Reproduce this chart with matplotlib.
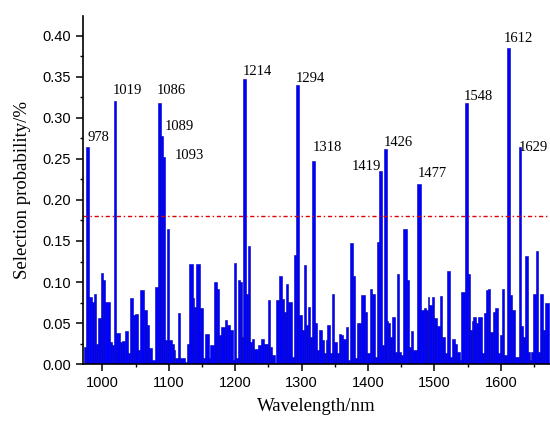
import numpy as np
import matplotlib
matplotlib.use('Agg')
import matplotlib.pyplot as plt

# left edge of each column (nm) and its selection probability
wl = [972, 976, 979.5, 985, 988, 991, 993, 998, 1001, 1004, 1011, 1014, 1017, 1021,
      1026, 1030, 1034, 1038, 1041, 1046, 1049, 1053, 1057, 1063, 1067, 1071, 1075,
      1080, 1084, 1088, 1091, 1095, 1097, 1101, 1105, 1108, 1110, 1114, 1117, 1124,
      1128, 1131, 1136, 1138, 1141, 1147, 1152, 1155, 1160, 1162, 1168, 1173, 1176,
      1179, 1184, 1188, 1192, 1196, 1198, 1202, 1204, 1208, 1210, 1212, 1216, 1219,
      1222, 1226, 1229, 1234, 1239, 1243, 1247, 1250, 1253, 1256, 1260, 1262, 1266,
      1270, 1273, 1277, 1280, 1285, 1288, 1292, 1296, 1300, 1303, 1306, 1309, 1313,
      1316, 1320, 1323, 1326, 1331, 1334, 1337, 1339, 1343, 1346, 1349, 1353, 1356,
      1360, 1363, 1367, 1370, 1373, 1378, 1380, 1383, 1387, 1389, 1395, 1399, 1403,
      1406, 1410, 1413, 1417, 1421, 1424, 1428, 1430, 1433, 1436, 1441, 1444, 1447,
      1450, 1453, 1458, 1462, 1464, 1468, 1474, 1480, 1484, 1488, 1490, 1492, 1496,
      1500, 1504, 1508, 1512, 1516, 1519, 1524, 1527, 1531, 1534, 1538, 1540, 1546,
      1550, 1554, 1556, 1558, 1562, 1566, 1571, 1574, 1577, 1581, 1584, 1588, 1591,
      1595, 1598, 1602, 1605, 1610, 1614, 1617, 1621, 1627, 1631, 1634, 1637, 1641,
      1644, 1646, 1648, 1653, 1656, 1659, 1663, 1667]
wl_end = 1672

prob = [0.021, 0.265, 0.082, 0.076, 0.086, 0.025, 0.056, 0.111, 0.102, 0.076, 0.027,
        0.023, 0.320, 0.038, 0.027, 0.028, 0.040, 0.013, 0.080, 0.060, 0.061, 0.017,
        0.090, 0.066, 0.048, 0.020, 0.005, 0.094, 0.318, 0.278, 0.252, 0.030, 0.165,
        0.030, 0.025, 0.017, 0.007, 0.062, 0.007, 0.003, 0.025, 0.122, 0.080, 0.070,
        0.122, 0.068, 0.007, 0.037, 0.007, 0.023, 0.100, 0.092, 0.035, 0.045, 0.054,
        0.048, 0.042, 0.005, 0.123, 0.007, 0.103, 0.100, 0.033, 0.347, 0.086, 0.144,
        0.027, 0.031, 0.018, 0.023, 0.031, 0.025, 0.024, 0.078, 0.021, 0.011, 0.001,
        0.078, 0.107, 0.079, 0.064, 0.098, 0.076, 0.009, 0.133, 0.340, 0.060, 0.041,
        0.121, 0.048, 0.070, 0.033, 0.248, 0.050, 0.017, 0.041, 0.029, 0.013, 0.029,
        0.048, 0.013, 0.086, 0.027, 0.013, 0.037, 0.035, 0.031, 0.045, 0.005, 0.148,
        0.107, 0.007, 0.050, 0.050, 0.084, 0.064, 0.013, 0.092, 0.086, 0.009, 0.149,
        0.235, 0.023, 0.262, 0.052, 0.050, 0.033, 0.058, 0.015, 0.110, 0.015, 0.011,
        0.165, 0.102, 0.021, 0.040, 0.017, 0.220, 0.066, 0.068, 0.066, 0.082, 0.072,
        0.082, 0.056, 0.046, 0.083, 0.033, 0.013, 0.113, 0.009, 0.031, 0.025, 0.015,
        0.005, 0.088, 0.318, 0.110, 0.041, 0.052, 0.058, 0.050, 0.058, 0.013, 0.062,
        0.090, 0.091, 0.039, 0.064, 0.068, 0.013, 0.035, 0.092, 0.011, 0.385, 0.084,
        0.066, 0.009, 0.265, 0.046, 0.033, 0.132, 0.015, 0.005, 0.015, 0.086, 0.138,
        0.015, 0.086, 0.041, 0.074]

threshold = 0.18

# peak labels: text, x, y (text centre)
peak_text = ['978', '1019', '1086', '1089', '1093', '1214', '1294', '1318',
             '1419', '1426', '1477', '1548', '1612', '1629']
peak_x = [994, 1038, 1104, 1116, 1131, 1233, 1313, 1339, 1397, 1446, 1497, 1566, 1626, 1649]
peak_y = [0.276, 0.333, 0.333, 0.290, 0.254, 0.357, 0.348, 0.264, 0.241, 0.270,
          0.232, 0.326, 0.396, 0.264]

sans = ['Liberation Sans', 'DejaVu Sans']
serif = ['Liberation Serif', 'DejaVu Serif']

fig = plt.figure(figsize=(5.5, 4.21), dpi=100)
ax = fig.add_axes([0.151, 0.135, 0.849, 0.827])

widths = np.diff(wl + [wl_end])
ax.bar(wl, prob, width=widths, align='edge', color='#0000ff',
       edgecolor='#0000b0', linewidth=0.4)

ax.axhline(threshold, color='#dd0000', linewidth=1.0, linestyle=(0, (3, 2, 1, 2)))

for t, x, y in zip(peak_text, peak_x, peak_y):
    ax.text(x, y, t, ha='center', va='center', fontsize=10.5, family=serif)

ax.set_xlim(971, 1674)
ax.set_ylim(0, 0.424)
ax.set_xticks([1000, 1100, 1200, 1300, 1400, 1500, 1600])
ax.set_xticks(np.arange(1050, 1700, 100), minor=True)
ax.set_yticks([0, 0.05, 0.10, 0.15, 0.20, 0.25, 0.30, 0.35, 0.40])
ax.set_yticks(np.arange(0.025, 0.42, 0.05), minor=True)
ax.yaxis.set_major_formatter(plt.FormatStrFormatter('%.2f'))

for s in ['top', 'right']:
    ax.spines[s].set_visible(False)
for s in ['left', 'bottom']:
    ax.spines[s].set_linewidth(1.2)

ax.tick_params(which='major', direction='out', length=5, width=1.1, labelsize=10.5)
ax.tick_params(which='minor', direction='out', length=2.5, width=1.0)
for lab in ax.get_xticklabels() + ax.get_yticklabels():
    lab.set_family(sans)

ax.set_xlabel('Wavelength/nm', fontsize=13.5, family=serif, labelpad=6)
ax.set_ylabel('Selection probability/%', fontsize=13.5, family=serif, labelpad=8)

fig.savefig('out.png', dpi=100)
